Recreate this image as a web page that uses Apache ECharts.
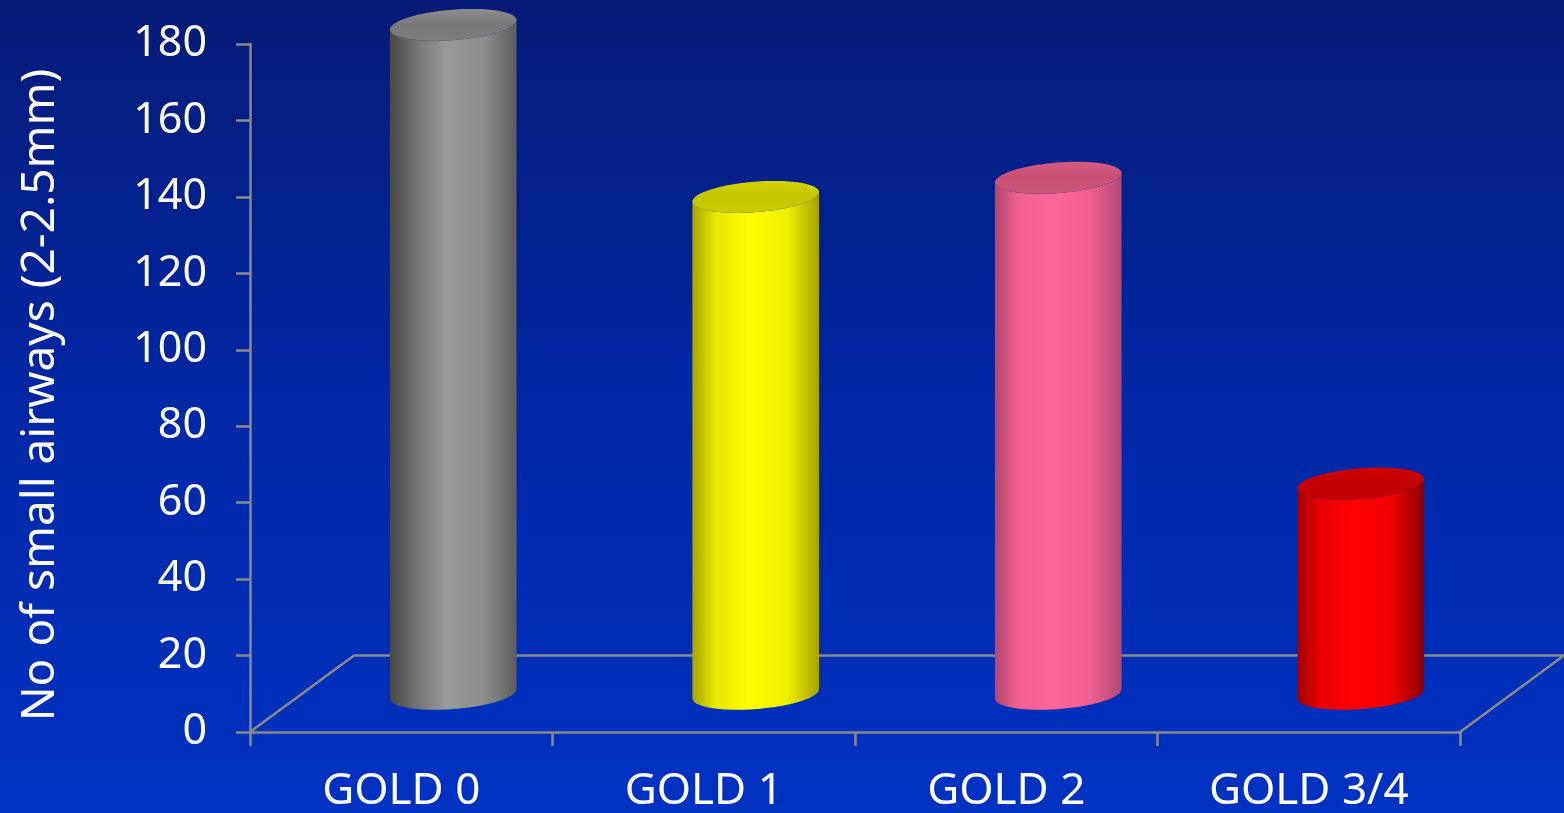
<!DOCTYPE html>
<html>
<head>
<meta charset="utf-8">
<script src="https://cdn.jsdelivr.net/npm/echarts@6/dist/echarts.min.js"></script>
<style>
  html, body { margin: 0; padding: 0; overflow: hidden; }
  #chart { width: 1564px; height: 813px; }
</style>
</head>
<body>
<div id="chart"></div>
<script>
// Number of small airways (2-2.5 mm) by GOLD stage
const categories = ['GOLD 0', 'GOLD 1', 'GOLD 2', 'GOLD 3/4'];
const airwayCounts = [175, 130, 135, 55];
const yMin = 0, yMax = 180, yStep = 20;
const yAxisTitle = 'No of small airways (2-2.5mm)';

// Shading for each cylinder: side gradient stops (left -> right) and lid gradient (back -> front)
const palettes = [
  { side: ['#474747', '#6f6f6f', '#9a9a9a', '#8c8c8c', '#5c5c5c'], lid: ['#8e8e8e', '#777777', '#7e7e7e'] },
  { side: ['#a6a600', '#e6e600', '#ffff00', '#f0f000', '#a3a300'], lid: ['#d4d400', '#c4c400', '#cccc00'] },
  { side: ['#b24670', '#f0608f', '#ff6699', '#ee6090', '#b04a78'], lid: ['#d45a80', '#c75074', '#cc557a'] },
  { side: ['#a00000', '#e80000', '#ff0000', '#ee0000', '#8c0000'], lid: ['#d00000', '#c00000', '#c80000'] }
];

const FONT = '"Noto Sans", "Open Sans", sans-serif';
const AXIS_GREY = '#8a8a8a';
const DEPTH_UNITS = 20;     // floor depth expressed in value units (vertical component)
const DEPTH_SLANT = 1.36;   // horizontal / vertical ratio of the floor's receding edges
const TILT = -4.5 * Math.PI / 180;

function depthOffset(api) {
  const dy = api.size([0, DEPTH_UNITS])[1];
  return [dy * DEPTH_SLANT, dy];
}

// Receding floor outline behind the bars
function renderFloor(params, api) {
  const cs = params.coordSys;
  const [dx, dy] = depthOffset(api);
  const x0 = cs.x, x1 = cs.x + cs.width;
  const y0 = api.coord([0, 0])[1];
  return {
    type: 'polyline',
    shape: { points: [[x0, y0], [x0 + dx, y0 - dy], [x1 + dx, y0 - dy], [x1, y0]] },
    style: { stroke: AXIS_GREY, lineWidth: 2.5, fill: null }
  };
}

function ellipsePoint(cx, cy, rx, ry, t) {
  const x = rx * Math.cos(t), y = ry * Math.sin(t);
  return [cx + x * Math.cos(TILT) - y * Math.sin(TILT), cy + x * Math.sin(TILT) + y * Math.cos(TILT)];
}

// Shaded cylinder standing in the middle of the floor depth
function renderCylinder(params, api) {
  const idx = api.value(0);
  const val = api.value(1);
  const [dx, dy] = depthOffset(api);
  const band = api.size([1, 0])[0];
  const base = api.coord([idx, 0]);
  const top = api.coord([idx, val]);
  const cx = base[0] + dx / 2;
  const by = base[1] - dy / 2;
  const ty = top[1] - dy / 2;
  const rx = band * 0.21;
  const ry = rx * 0.24;
  const N = 60;
  const pal = palettes[params.dataIndex % palettes.length];

  const body = [];
  for (let k = 0; k <= N; k++) body.push(ellipsePoint(cx, by, rx, ry, Math.PI - Math.PI * k / N));
  for (let k = 0; k <= N; k++) body.push(ellipsePoint(cx, ty, rx, ry, Math.PI * k / N));

  const lid = [];
  for (let k = 0; k < N * 2; k++) lid.push(ellipsePoint(cx, ty, rx, ry, Math.PI * k / N));

  const sideStops = pal.side.map((c, i) => ({ offset: [0, 0.18, 0.45, 0.75, 1][i], color: c }));
  const lidStops = pal.lid.map((c, i) => ({ offset: i / (pal.lid.length - 1), color: c }));

  return {
    type: 'group',
    children: [
      {
        type: 'polygon',
        shape: { points: body },
        style: { fill: { type: 'linear', x: 0, y: 0, x2: 1, y2: 0, colorStops: sideStops } }
      },
      {
        type: 'polygon',
        shape: { points: lid },
        style: { fill: { type: 'linear', x: 0, y: 0, x2: 0, y2: 1, colorStops: lidStops } }
      }
    ]
  };
}

const chart = echarts.init(document.getElementById('chart'), null, { renderer: 'canvas' });

chart.setOption({
  animation: false,
  backgroundColor: {
    type: 'linear', x: 0, y: 0, x2: 0, y2: 1,
    colorStops: [
      { offset: 0, color: '#051a76' },
      { offset: 0.5, color: '#0027a5' },
      { offset: 1, color: '#0032c2' }
    ]
  },
  grid: { left: 250, right: 104, top: 44, bottom: 80, containLabel: false },
  xAxis: {
    type: 'category',
    data: categories,
    boundaryGap: true,
    axisLine: { lineStyle: { color: AXIS_GREY, width: 2.5 } },
    axisTick: { show: true, length: 14, alignWithLabel: false, lineStyle: { color: AXIS_GREY, width: 2.5 } },
    axisLabel: { color: '#ffffff', fontSize: 44, fontFamily: FONT, margin: 37 },
    splitLine: { show: false }
  },
  yAxis: {
    type: 'value',
    min: yMin, max: yMax, interval: yStep,
    name: yAxisTitle,
    nameLocation: 'middle',
    nameRotate: 90,
    nameGap: 186,
    nameTextStyle: { color: '#ffffff', fontSize: 46, fontFamily: FONT, padding: [0, 14, 0, 0] },
    axisLine: { show: true, lineStyle: { color: AXIS_GREY, width: 2.5 } },
    axisTick: { show: true, length: 14, lineStyle: { color: AXIS_GREY, width: 2.5 } },
    axisLabel: { color: '#ffffff', fontSize: 43, fontFamily: FONT, margin: 43 },
    splitLine: { show: false }
  },
  series: [
    {
      type: 'custom',
      name: 'floor',
      renderItem: renderFloor,
      data: [[0, 0]],
      silent: true,
      z: 1
    },
    {
      type: 'custom',
      name: 'airways',
      renderItem: renderCylinder,
      data: airwayCounts.map((v, i) => [i, v]),
      encode: { x: 0, y: 1 },
      clip: false,
      z: 2
    }
  ]
});
</script>
</body>
</html>
